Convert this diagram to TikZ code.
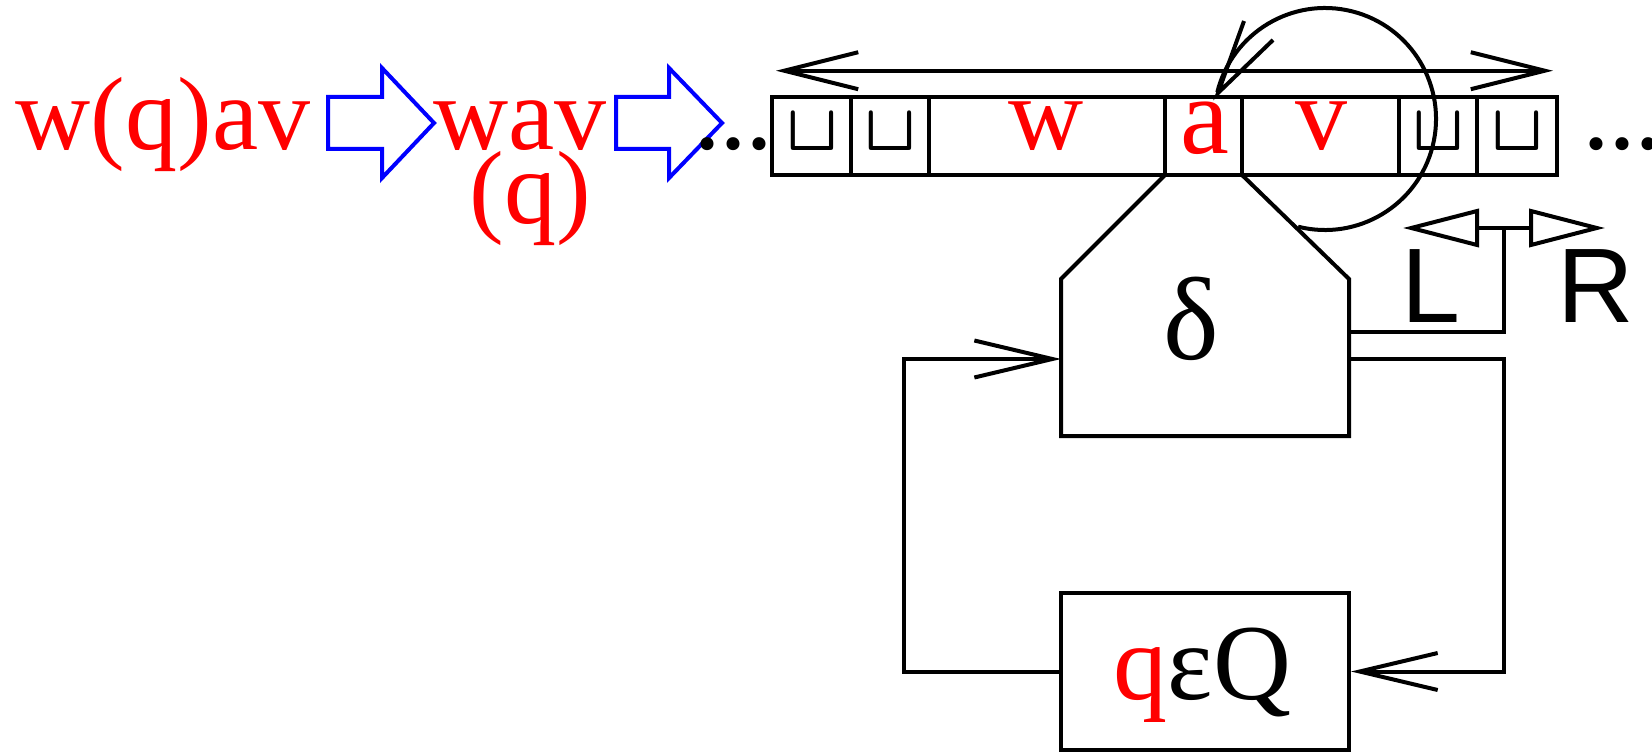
\documentclass[tikz,border=0pt]{standalone}
\usepackage{graphicx}
\usepackage{fontspec}
\setmainfont{Liberation Serif}
\newfontfamily\sansf{Liberation Sans}
\usetikzlibrary{arrows.meta}
\begin{document}
\begin{tikzpicture}[x=0.5pt,y=-0.5pt,
  ln/.style={line width=2pt, line join=miter},
  barb/.style={-{Straight Barb[length=39pt,width=18.5pt]}},
  dbarb/.style={{Straight Barb[length=37pt,width=18.5pt]}-{Straight Barb[length=37pt,width=18.5pt]}},
  tri/.style={{Triangle[open,length=38pt,width=19pt]}-{Triangle[open,length=38pt,width=19pt]}},
  rt/.style={text=red, font=\fontsize{52}{52}\selectfont, inner sep=0pt, anchor=base},
  bt/.style={text=black, font=\fontsize{52}{52}\selectfont, inner sep=0pt, anchor=base},
  dotst/.style={text=black, font=\bfseries\fontsize{40}{40}\selectfont, inner sep=0pt, anchor=base},
  st/.style={text=black, font=\sansf\fontsize{53}{53}\selectfont, inner sep=0pt, anchor=base},
  cup/.style={text=black, font=\fontsize{24.88}{25}\selectfont, inner sep=0pt, anchor=base},
  barrow/.style={draw=blue, line width=2pt, line join=miter}]
\useasboundingbox (0,0) rectangle (1652,754);

% left texts
\node[rt] (t1) at (163,150) {w(q)av};
\node[rt] (t2) at (520,150) {wav};
\node[rt] (t3) at (530,223) {(q)};

% blue block arrows
\draw[barrow] (328,97) -- (382,97) -- (382,68) -- (434,123) -- (382,178) -- (382,149) -- (328,149) -- cycle;
\draw[barrow] (616,97) -- (669,97) -- (669,68) -- (722,123) -- (669,178) -- (669,149) -- (616,149) -- cycle;

% dots
\node[dotst] (d1) at (733,150) {.\kern3pt.\kern3pt.};
\node[dotst] (d2) at (1622,150) {.\kern3pt.\kern3pt.};

% tape
\draw[ln] (772,97) rectangle (1557,175);
\foreach \x in {851,929,1165,1242,1399,1477} \draw[ln] (\x,97) -- (\x,175);
\foreach \x/\n in {812/c1,890/c2,1438/c3,1517/c4} \node[cup] (\n) at (\x,151) {\scalebox{1.36}[1.32]{\boldmath$\sqcup$}};
\node[rt] (tw) at (1046,150) {w};
\node[rt, font=\fontsize{55}{55}\selectfont] (ta) at (1205,154) {a};
\node[rt] (tv) at (1321,150) {v};

% top double arrow
\coordinate (tl) at (776,70.7);
\coordinate (tr) at (1553,70.7);
\draw[ln, dbarb] (tl) -- (tr);

% circle arrow
\coordinate (cc) at (1325,119);
\coordinate (ctip) at (1218,93);
\coordinate (cb1) at (1244,21);
\coordinate (cb2) at (1273,40);
\draw[ln] (cc) ++(-104:55.5pt) arc[start angle=-104, end angle=166, radius=55.5pt];
\draw[ln] (cb1) -- (ctip) -- (cb2);

% delta pentagon
\draw[ln] (1165,175) -- (1061,279) -- (1061,436) -- (1349,436) -- (1349,279) -- (1242,175);
\node[bt, font=\fontsize{59}{59}\selectfont] (delta) at (1191,359) {δ};
\coordinate (dIn) at (1061,359);
\coordinate (dOut) at (1349,359);
\coordinate (dR2) at (1349,332);

% L / R
\coordinate (lt) at (1403,228);
\coordinate (rtp) at (1605,228);
\coordinate (lrm) at (1504,228);
\draw[ln, tri] (lt) -- (rtp);
\draw[ln] (lrm) -- (lrm |- dR2) -- (dR2);
\node[st] (L) at (1431,322) {L};
\node[st] (R) at (1596,322) {R};

% Q box
\node[draw, ln, minimum width=144pt, minimum height=78.5pt, inner sep=0pt] (qbox) at (1205,671.5) {};
\node[bt, font=\fontsize{54}{54}\selectfont] (qtext) at (1202.5,699) {\textcolor{red}{q}εQ};

% loops
\coordinate (lx) at (904,0);
\coordinate (rx) at (1504,0);
\draw[ln, barb] (qbox.west) -| (lx |- dIn) -- (dIn);
\draw[ln, barb] (dOut) -| (rx |- qbox.east) -- (qbox.east);
\end{tikzpicture}
\end{document}
